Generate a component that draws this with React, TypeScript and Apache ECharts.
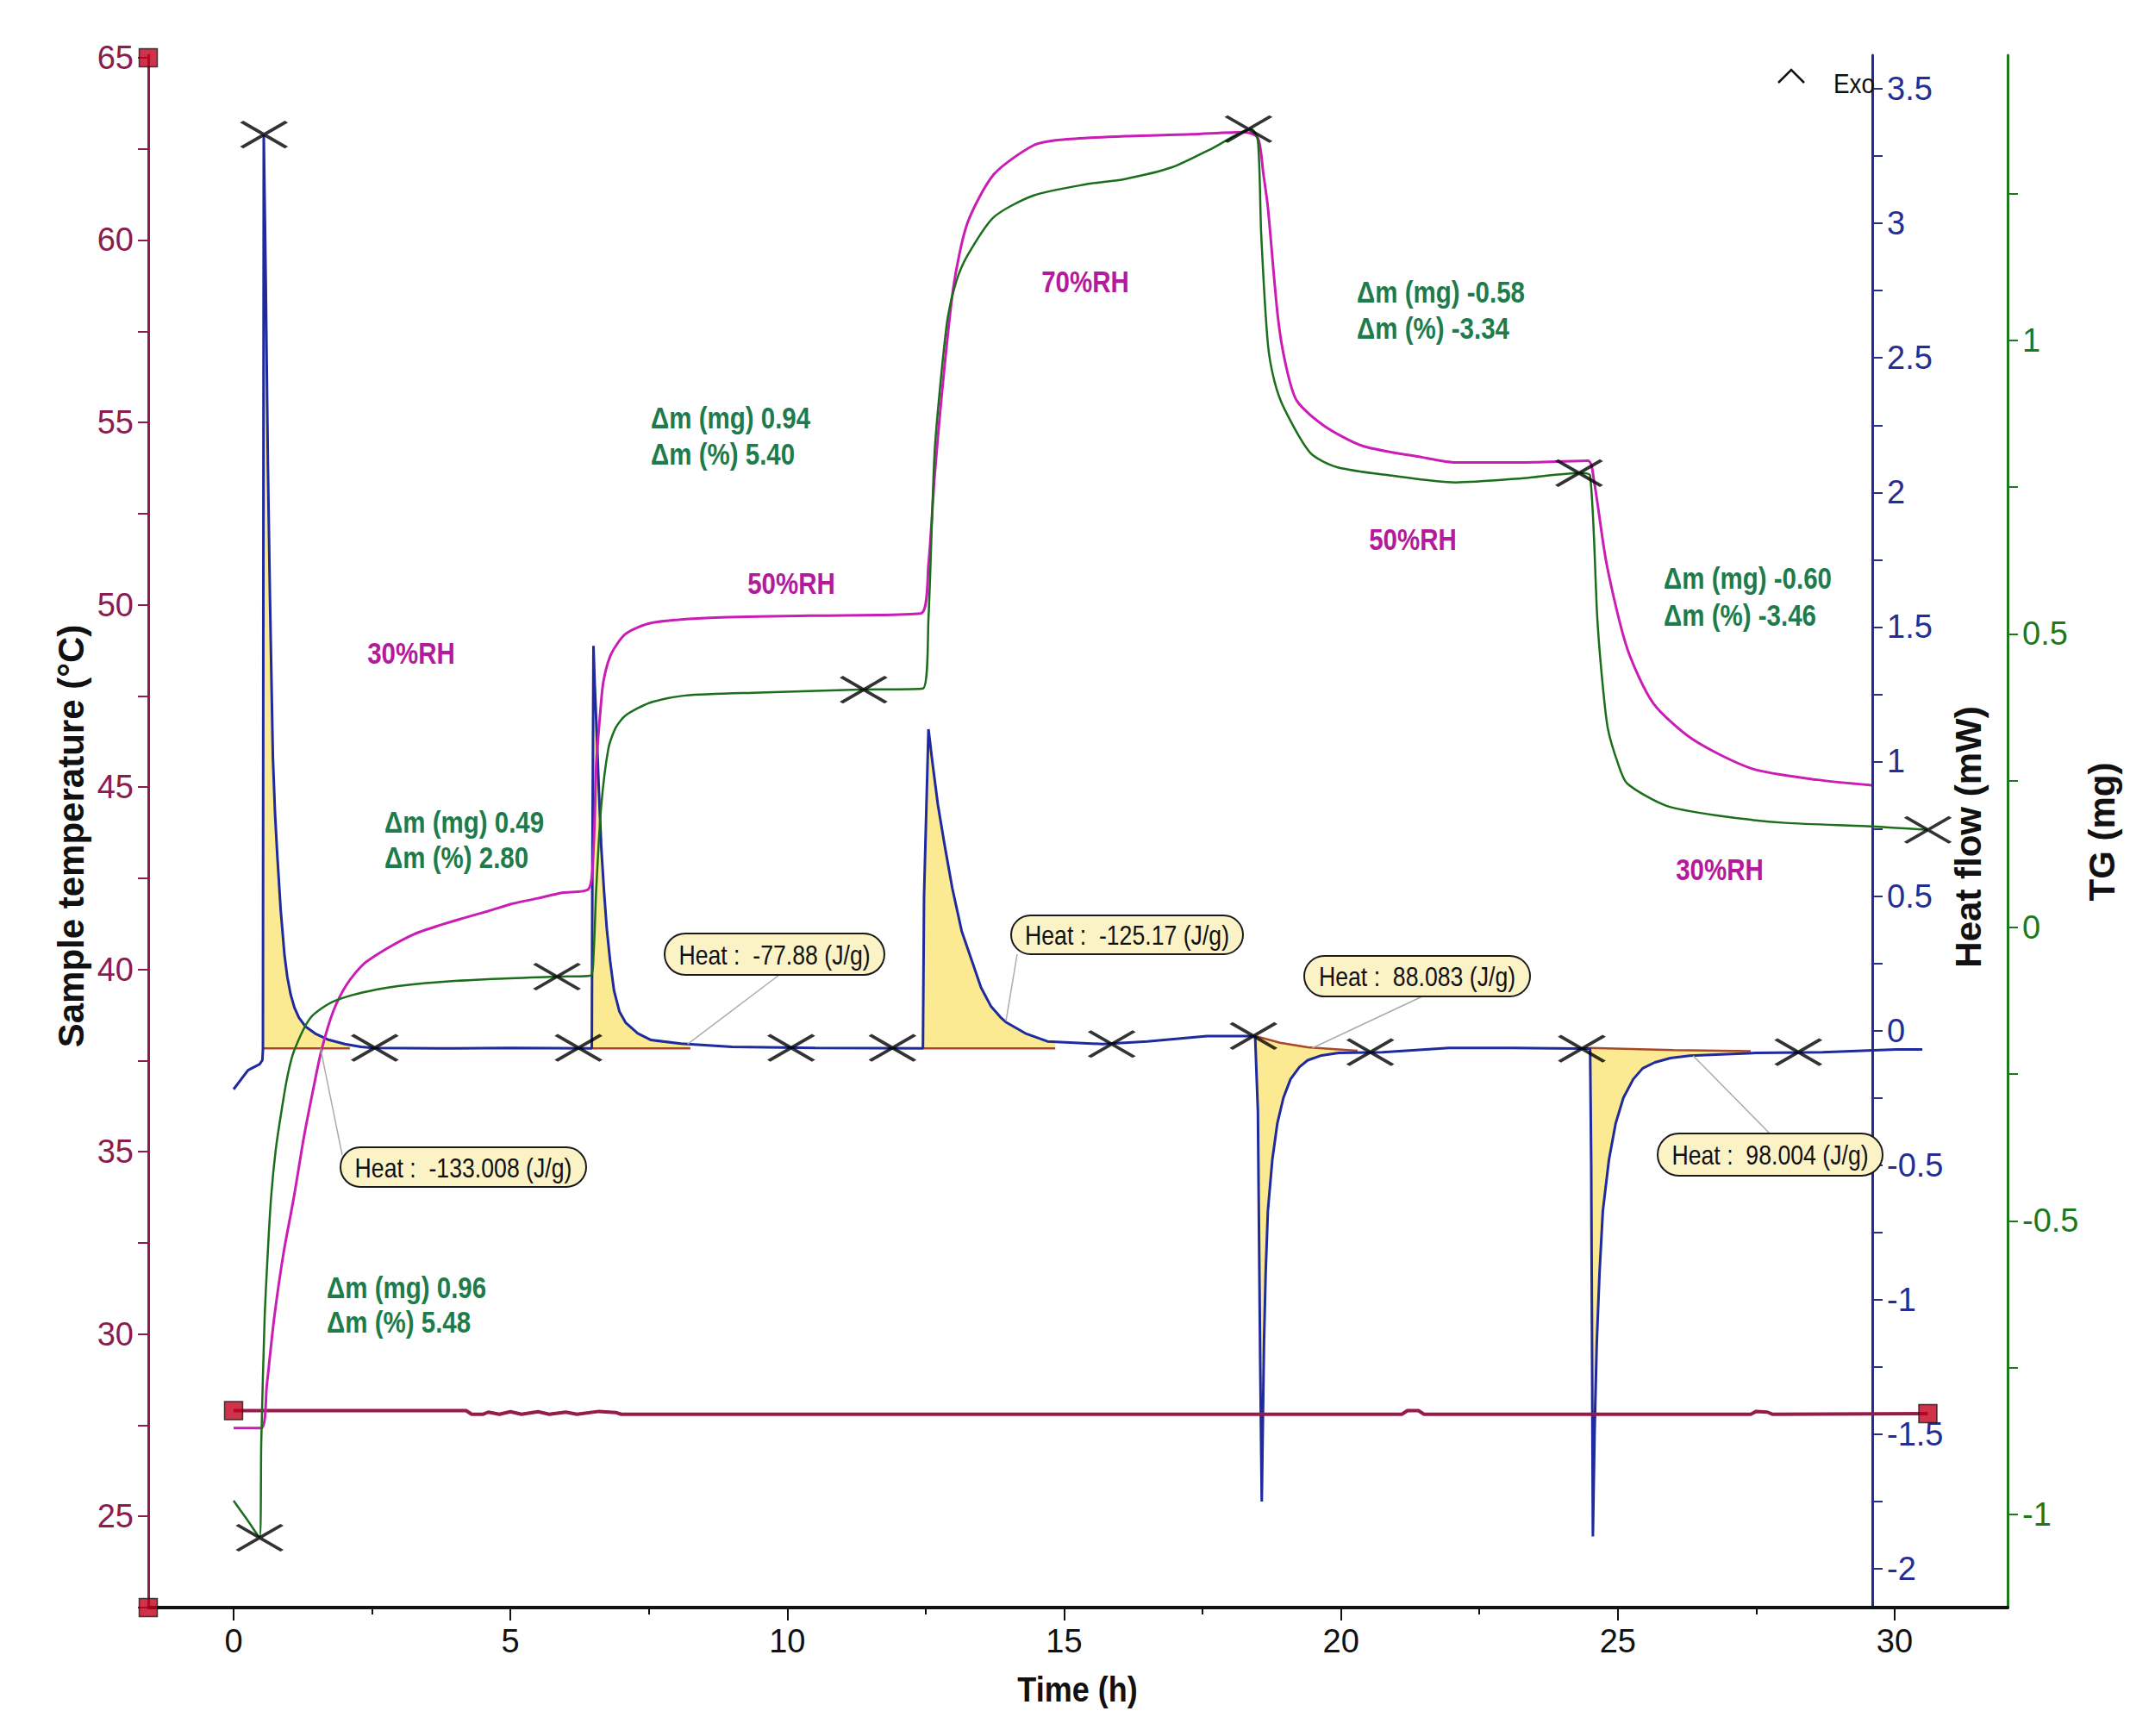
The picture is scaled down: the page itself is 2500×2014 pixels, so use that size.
import React, { useEffect, useRef } from 'react';
import * as echarts from 'echarts';

// ---------------- data ----------------
// Magenta humidity-chamber curve, drawn on the temperature scale [t (h), value]
const magentaCurve: number[][] = [
  [0, 27.42], [0.5, 27.42], [0.6, 28.6], [0.73, 30.4], [0.9, 32.2], [1.09, 33.76], [1.27, 35.4],
  [1.45, 36.8], [1.59, 37.8], [1.8, 38.85], [2.05, 39.6], [2.35, 40.15], [2.8, 40.6], [3.25, 40.96],
  [3.7, 41.2], [4.14, 41.4], [4.6, 41.6], [5.03, 41.8], [5.5, 41.95], [5.93, 42.1], [6.41, 42.2],
  [6.5, 43.3], [6.55, 45.6], [6.62, 47.0], [6.68, 47.9], [6.82, 48.65], [7.08, 49.2], [7.54, 49.5],
  [8.61, 49.64], [10.4, 49.7], [12.41, 49.76], [12.55, 51.1], [12.66, 53.5], [12.78, 55.6],
  [13.0, 58.7], [13.25, 60.45], [13.73, 61.8], [14.45, 62.6], [14.93, 62.75], [16.1, 62.85],
  [17.3, 62.9], [18.26, 62.96], [18.5, 62.8], [18.6, 61.8], [18.68, 60.9], [18.86, 57.9], [19.0, 56.6],
  [19.2, 55.6], [19.7, 54.9], [20.4, 54.35], [21.47, 54.04], [22.07, 53.9], [23.26, 53.9],
  [24.46, 53.95], [24.57, 53.4], [24.8, 51.1], [25.17, 48.8], [25.64, 47.3], [26.36, 46.3],
  [27.43, 45.5], [28.6, 45.2], [29.58, 45.05],
];

// TG (mg)
const tgCurve: number[][] = [
  [0, -0.977], [0.25, -1.01], [0.47, -1.04], [0.5, -0.878], [0.56, -0.668], [0.62, -0.55],
  [0.68, -0.457], [0.76, -0.38], [0.86, -0.316], [0.97, -0.255], [1.09, -0.211], [1.39, -0.154],
  [1.81, -0.126], [2.58, -0.106], [3.47, -0.095], [4.67, -0.088], [5.86, -0.084], [6.45, -0.082],
  [6.5, -0.05], [6.55, 0.066], [6.64, 0.207], [6.77, 0.305], [6.9, 0.34], [7.08, 0.361], [7.53, 0.383],
  [8.16, 0.395], [9.5, 0.4], [11.29, 0.405], [12.45, 0.407], [12.55, 0.526], [12.66, 0.808],
  [12.78, 0.94], [12.9, 1.04], [13.05, 1.1], [13.25, 1.144], [13.73, 1.21], [14.45, 1.247],
  [15.4, 1.266], [16.1, 1.275], [16.95, 1.295], [17.67, 1.327], [18.38, 1.36], [18.5, 1.34],
  [18.56, 1.18], [18.68, 0.994], [18.8, 0.93], [18.98, 0.883], [19.45, 0.808], [19.93, 0.784],
  [20.88, 0.77], [22.07, 0.758], [23.26, 0.765], [24.33, 0.774], [24.5, 0.77], [24.63, 0.526],
  [24.72, 0.42], [24.82, 0.339], [25.0, 0.28], [25.17, 0.245], [25.88, 0.207], [26.84, 0.19],
  [28.02, 0.178], [29.58, 0.172], [30.6, 0.166],
];

// Heat flow (mW)
const hfCurve: number[][] = [
  [0, -0.218], [0.26, -0.147], [0.47, -0.125], [0.52, -0.11], [0.53, -0.07], [0.545, 3.33],
  [0.58, 2.8], [0.62, 2.1], [0.655, 1.63], [0.71, 1.015], [0.75, 0.8], [0.79, 0.65], [0.85, 0.45],
  [0.92, 0.28], [0.97, 0.2], [1.03, 0.135], [1.1, 0.085], [1.18, 0.048], [1.3, 0.015], [1.49, -0.013],
  [1.7, -0.033], [2.01, -0.05], [2.3, -0.06], [2.52, -0.064], [4.0, -0.066], [5.0, -0.064],
  [6.47, -0.066], [6.48, 0.6], [6.5, 1.43], [6.52, 1.3], [6.55, 1.15], [6.6, 0.88], [6.64, 0.685],
  [6.69, 0.52], [6.74, 0.38], [6.8, 0.26], [6.87, 0.15], [6.97, 0.07], [7.08, 0.03], [7.3, -0.01],
  [7.54, -0.035], [8.08, -0.048], [9.0, -0.06], [10.5, -0.064], [12.45, -0.066], [12.47, 0.5],
  [12.55, 1.12], [12.62, 1.0], [12.72, 0.84], [12.85, 0.68], [12.98, 0.53], [13.15, 0.37],
  [13.34, 0.256], [13.5, 0.16], [13.68, 0.09], [13.85, 0.05], [13.96, 0.03], [14.3, -0.01],
  [14.7, -0.04], [15.7, -0.05], [16.5, -0.04], [17.58, -0.02], [18.45, -0.02], [18.5, -0.3],
  [18.54, -1.2], [18.57, -1.75], [18.59, -1.45], [18.61, -1.16], [18.64, -0.9], [18.68, -0.67],
  [18.76, -0.48], [18.85, -0.346], [18.96, -0.25], [19.09, -0.18], [19.25, -0.135], [19.4, -0.11],
  [19.65, -0.092], [19.96, -0.083], [20.75, -0.08], [21.95, -0.064], [23.1, -0.064], [24.33, -0.067],
  [24.5, -0.067], [24.52, -0.5], [24.55, -1.88], [24.58, -1.5], [24.62, -1.16], [24.67, -0.9],
  [24.73, -0.67], [24.84, -0.48], [24.96, -0.346], [25.1, -0.25], [25.28, -0.18], [25.45, -0.14],
  [25.67, -0.118], [25.95, -0.102], [26.3, -0.093], [27.5, -0.083], [28.7, -0.08], [30.03, -0.07],
  [30.5, -0.07],
];

// Sample temperature (°C)
const sampleTemp: number[][] = [
  [0, 27.9], [4.2, 27.9], [4.3, 27.8], [4.5, 27.8], [4.6, 27.86], [4.8, 27.8], [5.0, 27.87],
  [5.2, 27.8], [5.5, 27.87], [5.7, 27.8], [6.0, 27.86], [6.2, 27.8], [6.6, 27.88], [6.9, 27.85],
  [7.0, 27.8], [21.1, 27.8], [21.2, 27.9], [21.4, 27.9], [21.5, 27.8], [27.4, 27.8], [27.5, 27.88],
  [27.7, 27.86], [27.8, 27.8], [30.6, 27.82],
];

// integration baselines of the five heat peaks
const base1: number[][] = [[0.53, -0.066], [2.1, -0.066]];
const base2: number[][] = [[6.48, -0.066], [8.25, -0.066]];
const base3: number[][] = [[12.46, -0.066], [14.84, -0.066]];
const base4: number[][] = [[18.45, -0.02], [18.9, -0.045], [19.4, -0.062], [20.3, -0.075]];
const base5: number[][] = [[24.5, -0.064], [26.0, -0.072], [27.4, -0.076]];

// cross markers
const crossHF: number[][] = [
  [0.55, 3.33], [2.55, -0.064], [6.23, -0.064], [10.07, -0.064], [11.9, -0.064], [15.86, -0.05],
  [18.42, -0.02], [20.53, -0.08], [24.35, -0.067], [28.26, -0.08],
];
const crossTG: number[][] = [[0.47, -1.04], [5.84, -0.084], [11.38, 0.405], [18.33, 1.36], [24.3, 0.774], [30.6, 0.166]];

// axis extents and ticks
const X_MIN = -1.541, X_MAX = 32.04;
const T_MIN = 22.5, T_MAX = 65.07;
const HF_MIN = -2.144, HF_MAX = 3.625;
const TG_MIN = -1.159, TG_MAX = 1.486;
const tempSquares: number[][] = [[X_MIN, 65], [X_MIN, 22.5], [0, 27.9], [30.6, 27.82]];

const xMajor = [0, 5, 10, 15, 20, 25, 30];
const xMinor = [2.5, 7.5, 12.5, 17.5, 22.5, 27.5];
const tempTicks = [22.5, 25, 27.5, 30, 32.5, 35, 37.5, 40, 42.5, 45, 47.5, 50, 52.5, 55, 57.5, 60, 62.5, 65];
const tempLabels = [25, 30, 35, 40, 45, 50, 55, 60, 65];
const hfTicks = [-2, -1.75, -1.5, -1.25, -1, -0.75, -0.5, -0.25, 0, 0.25, 0.5, 0.75, 1, 1.25, 1.5, 1.75, 2, 2.25, 2.5, 2.75, 3, 3.25, 3.5];
const hfLabels = [-2, -1.5, -1, -0.5, 0, 0.5, 1, 1.5, 2, 2.5, 3, 3.5];
const tgTicks = [-1, -0.75, -0.5, -0.25, 0, 0.25, 0.5, 0.75, 1, 1.25];
const tgLabels = [-1, -0.5, 0, 0.5, 1];

// annotation texts
const rhLabels = ['30%RH', '50%RH', '70%RH', '50%RH', '30%RH'];
const dmLabels = [
  ['Δm (mg) 0.96', 'Δm (%) 5.48'],
  ['Δm (mg) 0.49', 'Δm (%) 2.80'],
  ['Δm (mg) 0.94', 'Δm (%) 5.40'],
  ['Δm (mg) -0.58', 'Δm (%) -3.34'],
  ['Δm (mg) -0.60', 'Δm (%) -3.46'],
];
const heatLabels = ['Heat :  -133.008 (J/g)', 'Heat :  -77.88 (J/g)', 'Heat :  -125.17 (J/g)', 'Heat :  88.083 (J/g)', 'Heat :  98.004 (J/g)'];
const heatAnchors: number[][] = [[1.57, -0.066], [8.2, -0.05], [13.95, 0.035], [19.48, -0.065], [26.36, -0.093]];

// ---------------- layout (pixels) ----------------
const rhPos = [[477, 757], [918, 676], [1259, 326], [1639, 625], [1995, 1008]];
const dmPos = [[379, 1493, 1533], [446, 953, 994], [755, 484, 526], [1574, 338, 380], [1930, 670, 713]];
const heatBox = [[395, 1331, 285, 46], [771, 1083, 255, 48], [1173, 1062, 269, 45], [1513, 1109, 262, 47], [1923, 1315, 261, 49]];
const heatLeaderEnd = [[397, 1340], [904, 1131], [1180, 1107], [1650, 1156], [2053, 1315]];

const FONT = "'Liberation Sans', Arial, Helvetica, sans-serif";
const C_LEFT = '#8A1D4E';
const C_BLUE = '#1E2A9E';
const C_BLUE_AX = '#242E92';
const C_GREEN = '#1B6E1B';
const C_GREEN_AX = '#1C7A1C';
const C_MAG = '#C91DB5';
const C_RH = '#B31A9C';
const C_DM = '#1E7B4B';
const C_FILL = '#FBEA92';
const C_BASE = '#A8482A';
const NARROW = 0.82;

function interp(curve: number[][], t: number): number {
  for (let i = 1; i < curve.length; i++) {
    if (curve[i][0] >= t) {
      const [t0, v0] = curve[i - 1];
      const [t1, v1] = curve[i];
      if (t1 === t0) return v1;
      return v0 + ((v1 - v0) * (t - t0)) / (t1 - t0);
    }
  }
  return curve[curve.length - 1][1];
}

const fillBases = [base1, base2, base3, base4, base5];

function yAxisBase(color: string, min: number, max: number, ticks: number[], labels: number[], extra: any) {
  return {
    type: 'value',
    min,
    max,
    splitLine: { show: false },
    axisLine: { show: true, onZero: false, lineStyle: { color, width: 3 } },
    axisTick: { show: true, customValues: ticks, length: 12, lineStyle: { color, width: 2 } },
    axisLabel: { show: true, customValues: labels, fontSize: 38, color, fontFamily: FONT, margin: 17 },
    ...extra,
  };
}

function buildOption() {
  const crossSymbol = 'path://M0,0L52,30M0,30L52,0';
  return {
    animation: false,
    backgroundColor: '#ffffff',
    grid: { left: 172, right: 171, top: 64, bottom: 149, containLabel: false },
    xAxis: [
      {
        type: 'value', min: X_MIN, max: X_MAX, position: 'bottom',
        splitLine: { show: false },
        axisLine: { show: true, onZero: false, lineStyle: { color: '#111', width: 4 } },
        axisTick: { show: true, customValues: xMajor, length: 15, lineStyle: { color: '#111', width: 2 } },
        axisLabel: { show: true, customValues: xMajor, fontSize: 38, color: '#111', fontFamily: FONT, margin: 20 },
      },
      {
        type: 'value', min: X_MIN, max: X_MAX, position: 'bottom',
        splitLine: { show: false },
        axisLine: { show: false, onZero: false },
        axisTick: { show: true, customValues: xMinor, length: 8, lineStyle: { color: '#111', width: 2 } },
        axisLabel: { show: false },
      },
    ],
    yAxis: [
      yAxisBase(C_LEFT, T_MIN, T_MAX, tempTicks, tempLabels, { position: 'left' }),
      yAxisBase(C_BLUE_AX, HF_MIN, HF_MAX, hfTicks, hfLabels, { position: 'right', offset: -157 }),
      yAxisBase(C_GREEN_AX, TG_MIN, TG_MAX, tgTicks, tgLabels, { position: 'right', offset: 0 }),
    ],
    series: [
      {
        type: 'custom', name: 'peak areas', xAxisIndex: 0, yAxisIndex: 1, z: 1, silent: true,
        data: fillBases.map((b) => [b[0][0], b[0][1]]),
        renderItem: (params: any, api: any) => {
          const base = fillBases[params.dataIndex];
          const t0 = base[0][0];
          const t1 = base[base.length - 1][0];
          const pts: number[][] = [];
          pts.push(api.coord([t0, interp(hfCurve, t0)]));
          hfCurve.forEach((p) => {
            if (p[0] > t0 && p[0] < t1) pts.push(api.coord(p));
          });
          pts.push(api.coord([t1, interp(hfCurve, t1)]));
          for (let i = base.length - 1; i >= 0; i--) pts.push(api.coord(base[i]));
          return { type: 'polygon', shape: { points: pts }, style: { fill: C_FILL, stroke: 'none' } };
        },
      },
      ...fillBases.map((b, i) => ({
        type: 'line', name: 'baseline ' + (i + 1), xAxisIndex: 0, yAxisIndex: 1, data: b,
        symbol: 'none', z: 2, silent: true, lineStyle: { color: C_BASE, width: 2.5 },
      })),
      {
        type: 'line', name: 'Heat flow', xAxisIndex: 0, yAxisIndex: 1, data: hfCurve, symbol: 'none', z: 3,
        lineStyle: { color: C_BLUE, width: 3 },
      },
      {
        type: 'line', name: 'Sample temperature', xAxisIndex: 0, yAxisIndex: 0, data: sampleTemp, symbol: 'none', z: 3,
        lineStyle: { color: '#961A4A', width: 4 },
      },
      {
        type: 'line', name: 'RH', xAxisIndex: 0, yAxisIndex: 0, data: magentaCurve, symbol: 'none', z: 4,
        smooth: 0.25,
        lineStyle: { color: C_MAG, width: 3 },
      },
      {
        type: 'line', name: 'TG', xAxisIndex: 0, yAxisIndex: 2, data: tgCurve, symbol: 'none', z: 4,
        smooth: 0.25,
        lineStyle: { color: C_GREEN, width: 2.5 },
      },
      {
        type: 'scatter', name: 'marks HF', xAxisIndex: 0, yAxisIndex: 1, data: crossHF, z: 6, clip: false,
        symbol: crossSymbol, symbolSize: [52, 30],
        itemStyle: { color: 'rgba(0,0,0,0)', borderColor: '#000', borderWidth: 4 },
      },
      {
        type: 'scatter', name: 'marks TG', xAxisIndex: 0, yAxisIndex: 2, data: crossTG, z: 6, clip: false,
        symbol: crossSymbol, symbolSize: [52, 30],
        itemStyle: { color: 'rgba(0,0,0,0)', borderColor: '#000', borderWidth: 4 },
      },
      {
        type: 'scatter', name: 'temperature ends', xAxisIndex: 0, yAxisIndex: 0, data: tempSquares, z: 7, clip: false,
        symbol: 'rect', symbolSize: 21,
        itemStyle: { color: '#C2001B', borderColor: '#1a1a1a', borderWidth: 1.5 },
      },
    ],
  };
}

function txt(x: number, y: number, text: string, size: number, color: string, opts: any = {}) {
  return {
    type: 'text', x, y, z: 50,
    scaleX: opts.scaleX ?? 1,
    rotation: opts.rotation ?? 0,
    style: {
      text, fontSize: size, fontFamily: FONT, fontWeight: opts.bold ? 'bold' : 'normal', fill: color,
      align: opts.align ?? 'center', textAlign: opts.align ?? 'center',
      verticalAlign: 'middle', textVerticalAlign: 'middle',
    },
  };
}

function buildGraphic(chart: any) {
  const els: any[] = [];
  // axis titles
  els.push(txt(82, 970, 'Sample temperature (°C)', 42, '#111', { bold: true, rotation: Math.PI / 2 }));
  els.push(txt(2283, 971, 'Heat flow (mW)', 42, '#111', { bold: true, rotation: Math.PI / 2 }));
  els.push(txt(2438, 965, 'TG (mg)', 42, '#111', { bold: true, rotation: Math.PI / 2 }));
  els.push(txt(1250, 1960, 'Time (h)', 40, '#111', { bold: true, scaleX: 0.9 }));
  // Exo marker
  els.push({ type: 'polyline', z: 50, shape: { points: [[2063, 96], [2078, 81], [2093, 96]] }, style: { stroke: '#111', lineWidth: 2.5, fill: 'none' } });
  els.push(txt(2127, 97, 'Exo', 31, '#111', { align: 'left', scaleX: 0.9 }));
  // RH labels
  rhLabels.forEach((s, i) => els.push(txt(rhPos[i][0], rhPos[i][1], s, 36, C_RH, { bold: true, scaleX: NARROW })));
  // mass change labels
  dmLabels.forEach((pair, i) => {
    els.push(txt(dmPos[i][0], dmPos[i][1], pair[0], 36, C_DM, { bold: true, scaleX: NARROW, align: 'left' }));
    els.push(txt(dmPos[i][0], dmPos[i][2], pair[1], 36, C_DM, { bold: true, scaleX: NARROW, align: 'left' }));
  });
  // heat labels with leader lines
  heatLabels.forEach((s, i) => {
    const anchor = chart.convertToPixel({ xAxisIndex: 0, yAxisIndex: 1 }, heatAnchors[i]);
    const end = heatLeaderEnd[i];
    els.push({
      type: 'line', z: 40,
      shape: { x1: anchor[0], y1: anchor[1], x2: end[0], y2: end[1] },
      style: { stroke: '#ABABAB', lineWidth: 1.5 },
    });
    const [bx, by, bw, bh] = heatBox[i];
    els.push({
      type: 'rect', z: 45,
      shape: { x: bx, y: by, width: bw, height: bh, r: bh / 2 },
      style: { fill: '#FBF2C6', stroke: '#1a1a1a', lineWidth: 2 },
    });
    els.push(txt(bx + bw / 2, by + bh / 2 + 1, s, 31, '#111', { scaleX: 0.86 }));
  });
  return els;
}

export default function App() {
  const ref = useRef<HTMLDivElement>(null);
  useEffect(() => {
    document.body.style.margin = '0';
    if (!ref.current) return;
    const chart = echarts.init(ref.current, null, { renderer: 'svg' });
    chart.setOption(buildOption() as any);
    chart.setOption({ graphic: { elements: buildGraphic(chart) } } as any);
    return () => chart.dispose();
  }, []);
  return <div ref={ref} style={{ width: 2500, height: 2014, background: '#fff' }} />;
}
